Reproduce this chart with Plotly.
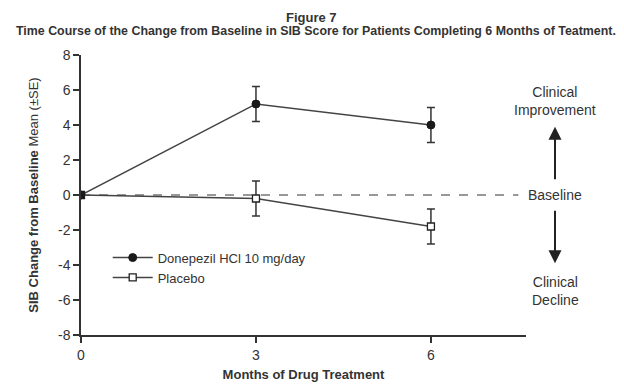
import plotly.graph_objects as go

months = [0, 3, 6]
donepezil = [0, 5.2, 4.0]
donepezil_se = [0, 1.0, 1.0]
placebo = [0, -0.2, -1.8]
placebo_se = [0, 1.0, 1.0]
y_ticks = [-8, -6, -4, -2, 0, 2, 4, 6, 8]
y_tick_labels = [str(v) for v in y_ticks]
x_ticks = [0, 3, 6]

INK = "#333333"
FONT = "Liberation Sans, Arial, sans-serif"

fig = go.Figure()

fig.add_shape(type="line", xref="x", yref="y", x0=0, x1=7.5, y0=0, y1=0,
              line=dict(color="#777777", width=1.3, dash="dash"), layer="below")

fig.add_trace(go.Scatter(
    x=months, y=donepezil, name="Donepezil HCl 10 mg/day",
    mode="lines+markers",
    line=dict(color="#444444", width=1.5),
    marker=dict(symbol="circle", size=8, color="#1a1a1a", line=dict(color="#1a1a1a", width=1)),
    error_y=dict(type="data", array=donepezil_se, visible=True, color="#333333", thickness=1.5, width=4),
))
fig.add_trace(go.Scatter(
    x=months, y=placebo, name="Placebo",
    mode="lines+markers",
    line=dict(color="#444444", width=1.5),
    marker=dict(symbol="square", size=7, color="white", line=dict(color="#222222", width=1.3)),
    error_y=dict(type="data", array=placebo_se, visible=True, color="#333333", thickness=1.5, width=4),
))
fig.add_trace(go.Scatter(
    x=months[:1], y=placebo[:1], mode="markers", showlegend=False, hoverinfo="skip",
    marker=dict(symbol="square", size=8, color="#1a1a1a"),
))

# page body has an 8px margin, so the figure is sized/offset to compensate
fig.update_layout(
    width=616, height=384,
    margin=dict(l=73, r=98, t=47, b=57),
    paper_bgcolor="white", plot_bgcolor="white",
    font=dict(family=FONT, color=INK, size=13),
    showlegend=True,
    legend=dict(x=0.06, y=0.33, xanchor="left", yanchor="top",
                bgcolor="rgba(0,0,0,0)", font=dict(size=13, color=INK),
                tracegroupgap=0, itemwidth=40),
    xaxis=dict(range=[0, 7.63], tickvals=x_ticks, ticks="outside", ticklen=6,
               tickwidth=1.5, tickcolor="#333", showline=True, linecolor="#333",
               linewidth=1.5, showgrid=False, zeroline=False, automargin=False,
               tickfont=dict(size=14, color=INK),
               title=dict(text="<b>Months of Drug Treatment</b>", font=dict(size=13, color=INK), standoff=8)),
    yaxis=dict(range=[-8, 8], tickvals=y_ticks, ticktext=y_tick_labels, ticks="outside", ticklen=6,
               tickwidth=1.5, tickcolor="#333", showline=True, linecolor="#333",
               linewidth=1.5, showgrid=False, zeroline=False, automargin=False,
               tickfont=dict(size=14, color=INK),
               title=dict(text="<b>SIB Change from Baseline</b> Mean (±SE)", font=dict(size=13, color=INK), standoff=16)),
)

fig.add_annotation(text="<b>Figure 7</b>", xref="paper", yref="paper",
                   x=0.519, y=1, yshift=38, showarrow=False, font=dict(size=13, color=INK),
                   xanchor="center", yanchor="middle")
fig.add_annotation(text="<b>Time Course of the Change from Baseline in SIB Score for Patients Completing 6 Months of Teatment.</b>",
                   xref="paper", yref="paper", x=0.528, y=1, yshift=24, showarrow=False,
                   font=dict(size=12.4, color=INK), xanchor="center", yanchor="middle")

fig.add_annotation(text="Clinical<br>Improvement", xref="paper", yref="y",
                   x=1, xshift=29, y=5.4, showarrow=False, font=dict(size=14, color=INK),
                   xanchor="center", yanchor="middle")
fig.add_annotation(text="Baseline", xref="paper", yref="y",
                   x=1, xshift=29, y=0, showarrow=False, font=dict(size=14, color=INK),
                   xanchor="center", yanchor="middle")
fig.add_annotation(text="Clinical<br>Decline", xref="paper", yref="y",
                   x=1, xshift=29, y=-5.5, showarrow=False, font=dict(size=14, color=INK),
                   xanchor="center", yanchor="middle")
fig.add_annotation(text="", xref="paper", yref="y", axref="pixel", ayref="pixel",
                   x=1, xshift=29, y=3.9, ax=0, ay=54, showarrow=True,
                   arrowhead=2, arrowsize=1.3, arrowwidth=2, arrowcolor="#222")
fig.add_annotation(text="", xref="paper", yref="y", axref="pixel", ayref="pixel",
                   x=1, xshift=29, y=-3.9, ax=0, ay=-54, showarrow=True,
                   arrowhead=2, arrowsize=1.3, arrowwidth=2, arrowcolor="#222")

fig.write_html("out.html")
